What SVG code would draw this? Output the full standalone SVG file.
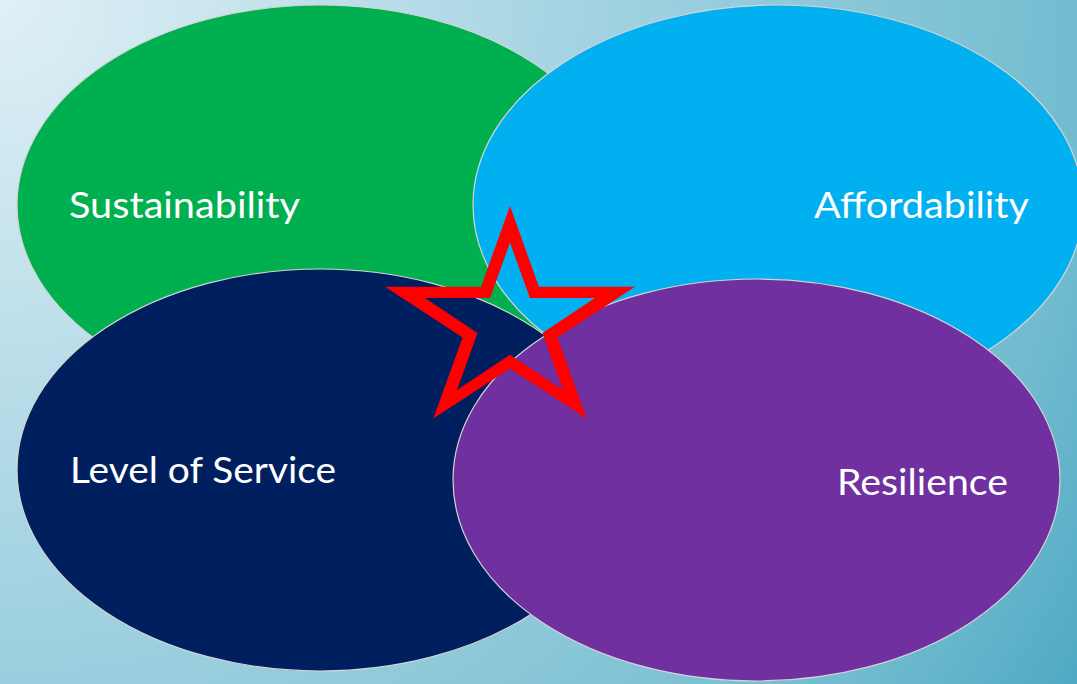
<svg xmlns="http://www.w3.org/2000/svg" width="1077" height="684" viewBox="0 0 1077 684">
  <defs>
    <radialGradient id="bg" gradientUnits="userSpaceOnUse" cx="0" cy="0" r="1276" fx="0" fy="0">
      <stop offset="0" stop-color="#e0f0f6"/>
      <stop offset="0.54" stop-color="#99cede"/>
      <stop offset="0.85" stop-color="#72bcd0"/>
      <stop offset="1" stop-color="#4fa9c4"/>
    </radialGradient>
    <style>
      .oval { stroke: #d4d4d4; stroke-width: 1.2; }
      .label { font-family: "Lato", "Open Sans", "Liberation Sans", sans-serif; font-size: 36px; fill: #ffffff; }
    </style>
  </defs>
  <rect x="0" y="0" width="1077" height="684" fill="url(#bg)"/>
  <g id="sustainability">
    <ellipse class="oval" cx="320" cy="205" rx="303" ry="200" fill="#00b050"/>
    <text class="label" x="69" y="218" textLength="231" lengthAdjust="spacingAndGlyphs">Sustainability</text>
  </g>
  <g id="affordability">
    <ellipse class="oval" cx="778" cy="205" rx="305" ry="200" fill="#00b0f0"/>
    <text class="label" x="814" y="218" textLength="215" lengthAdjust="spacingAndGlyphs">Affordability</text>
  </g>
  <g id="level-of-service">
    <ellipse class="oval" cx="320" cy="470" rx="303" ry="201" fill="#001f5f"/>
    <text class="label" x="70" y="483" textLength="266" lengthAdjust="spacingAndGlyphs">Level of Service</text>
  </g>
  <g id="resilience">
    <ellipse class="oval" cx="756.5" cy="480" rx="303.5" ry="201" fill="#7030a0"/>
    <text class="label" x="837" y="495" textLength="171" lengthAdjust="spacingAndGlyphs">Resilience</text>
  </g>
  <g id="star">
    <path fill="#ff0000" fill-rule="evenodd" d="M510,206 L538.9,286.7 L635,286.7 L557.4,337.4 L586.7,418.5 L510,368.4 L433.3,418.5 L462.6,337.4 L385,286.7 L481.1,286.7 Z M510,242.5 L529.9,298 L595,298 L542.5,333 L563,390 L510,354.7 L457,390 L477.5,333 L425,298 L490.1,298 Z"/>
  </g>
  <g id="connectors"/>
</svg>
